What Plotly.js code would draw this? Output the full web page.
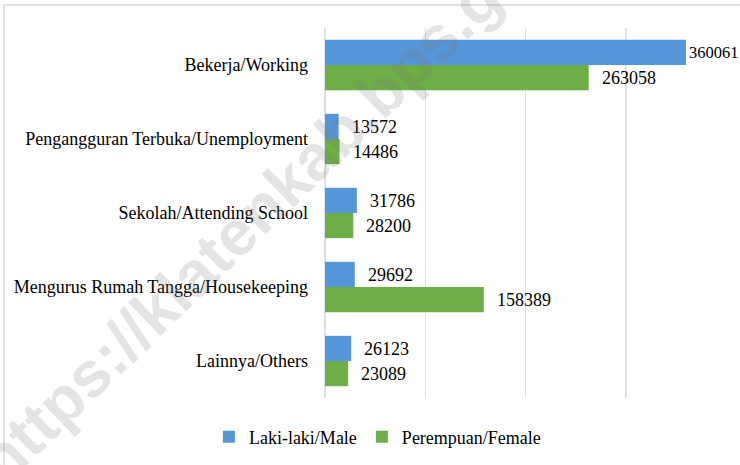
<!DOCTYPE html>
<html>
<head>
<meta charset="utf-8">
<script src="https://cdn.plot.ly/plotly-3.0.1.min.js"></script>
<style>html,body{margin:0;padding:0;background:#fff;}#chart{width:740px;height:465px;}</style>
</head>
<body>
<div id="chart"></div>
<script>
var categories = ["Bekerja/Working", "Pengangguran Terbuka/Unemployment", "Sekolah/Attending School", "Mengurus Rumah Tangga/Housekeeping", "Lainnya/Others"];
var maleValues = [360061, 13572, 31786, 29692, 26123];
var femaleValues = [263058, 14486, 28200, 158389, 23089];
var seriesNames = ["Laki-laki/Male", "Perempuan/Female"];
var xTicks = [0, 100000, 200000, 300000, 400000];
var watermarkText = "https://klatenkab.bps.go.id";

var L = 325, R = 726, T = 28, B = 398, W = 740, H = 465;
function px(x){ return (x - L) / (R - L); }
function py(y){ return (B - y) / (B - T); }

var FAMILY = "Times New Roman, Liberation Serif, DejaVu Serif, serif";
var font = {family: FAMILY, size: 18, color: "#000"};
var colors = ["#5596d8", "#6eae46"];

var traces = [maleValues, femaleValues].map(function(vals, i){
  return {
    type: "bar", orientation: "h", name: seriesNames[i],
    y: categories, x: vals,
    marker: {color: colors[i]}, hoverinfo: "x+name"
  };
});

// value labels placed through the axes (x = value, y = category), offset to each bar of the group
var maxVal = Math.max.apply(null, maleValues.concat(femaleValues));
var annotations = [];
[maleValues, femaleValues].forEach(function(vals, i){
  vals.forEach(function(v, j){
    var big = v === maxVal;
    annotations.push({
      xref: "x", yref: "y", x: v, y: categories[j], text: String(v),
      showarrow: false, xanchor: "left", yanchor: "middle",
      xshift: big ? 1 : 11, yshift: i === 0 ? 12.5 : -12.5,
      font: {family: FAMILY, size: big ? 16.5 : 18, color: "#000"}
    });
  });
});
annotations.push({
  xref: "paper", yref: "paper", x: px(280), y: py(190), text: watermarkText,
  showarrow: false, textangle: -44, xanchor: "center", yanchor: "middle",
  font: {family: "Liberation Sans, Arial, sans-serif", size: 64, color: "rgba(120,120,120,0.2)", weight: "bold"}
});

var layout = {
  width: W, height: H,
  margin: {l: L, r: W - R, t: T, b: H - B, pad: 0, autoexpand: false},
  paper_bgcolor: "#fff", plot_bgcolor: "#fff",
  barmode: "group", bargap: 0.32, bargroupgap: 0,
  font: font,
  showlegend: true,
  legend: {orientation: "h", xref: "container", yref: "container", x: 0.51, xanchor: "center", y: 1 - 437 / H, yanchor: "middle", font: font, itemwidth: 30, traceorder: "normal"},
  xaxis: {range: [0, 400000], tickvals: xTicks, showticklabels: false, showgrid: true, gridcolor: "#dce2ea", gridwidth: 1.5, zeroline: true, zerolinecolor: "#dce2ea", zerolinewidth: 1.5, showline: false, fixedrange: true},
  yaxis: {autorange: "reversed", type: "category", ticks: "", ticklabelstandoff: 16, showgrid: false, zeroline: false, showline: false, tickfont: font, automargin: false},
  shapes: [{type: "rect", xref: "paper", yref: "paper", x0: px(4), x1: px(760), y0: py(490), y1: py(5), line: {color: "#d9d9d9", width: 1.5}, fillcolor: "rgba(0,0,0,0)", layer: "below"}],
  annotations: annotations
};

Plotly.newPlot("chart", traces, layout, {displayModeBar: false, staticPlot: true});
</script>
</body>
</html>
